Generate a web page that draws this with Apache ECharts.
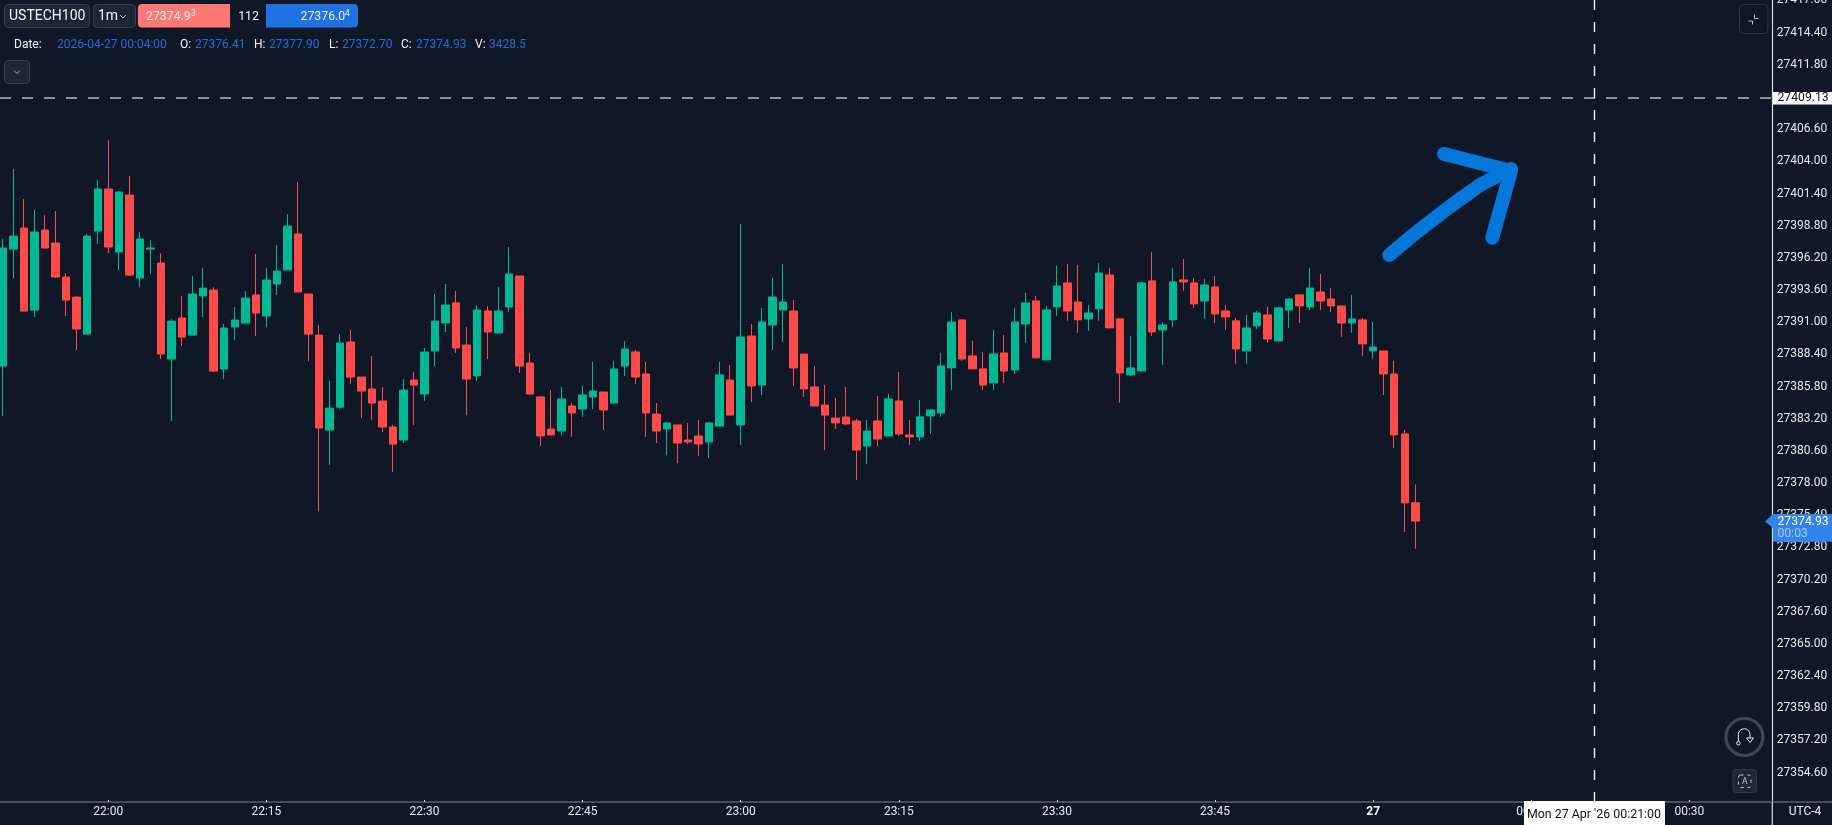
<!DOCTYPE html>
<html>
<head>
<meta charset="utf-8">
<style>html,body{margin:0;padding:0;background:#101827;overflow:hidden}#c{width:1832px;height:825px}</style>
<script src="https://cdn.jsdelivr.net/npm/echarts@6/dist/echarts.min.js"></script>
</head>
<body>
<div id="c"></div>
<script>
const times = ['21:50','21:51','21:52','21:53','21:54','21:55','21:56','21:57','21:58','21:59',
'22:00','22:01','22:02','22:03','22:04','22:05','22:06','22:07','22:08','22:09','22:10','22:11','22:12','22:13','22:14','22:15','22:16','22:17','22:18','22:19',
'22:20','22:21','22:22','22:23','22:24','22:25','22:26','22:27','22:28','22:29','22:30','22:31','22:32','22:33','22:34','22:35','22:36','22:37','22:38','22:39',
'22:40','22:41','22:42','22:43','22:44','22:45','22:46','22:47','22:48','22:49','22:50','22:51','22:52','22:53','22:54','22:55','22:56','22:57','22:58','22:59',
'23:00','23:01','23:02','23:03','23:04','23:05','23:06','23:07','23:08','23:09','23:10','23:11','23:12','23:13','23:14','23:15','23:16','23:17','23:18','23:19',
'23:20','23:21','23:22','23:23','23:24','23:25','23:26','23:27','23:28','23:29','23:30','23:31','23:32','23:33','23:34','23:35','23:36','23:37','23:38','23:39',
'23:40','23:41','23:42','23:43','23:44','23:45','23:46','23:47','23:48','23:49','23:50','23:51','23:52','23:53','23:54','23:55','23:56','23:57','23:58','23:59',
'00:00','00:01','00:02','00:03','00:04'];
const opens = [27387.46,27396.91,27398.61,27391.98,27398.45,27397.40,27394.65,27393.03,27390.04,27398.37,
27401.76,27396.67,27401.28,27394.57,27396.91,27395.78,27388.02,27391.34,27389.96,27393.12,
27393.60,27387.22,27390.61,27390.93,27393.20,27391.50,27394.09,27395.22,27398.13,27393.28,
27389.96,27382.29,27384.14,27389.40,27386.57,27385.60,27384.63,27382.53,27381.48,27386.33,
27385.20,27388.67,27390.94,27392.56,27389.16,27386.66,27391.91,27390.13,27392.23,27394.74,
27387.71,27384.96,27382.37,27382.21,27384.23,27383.99,27384.96,27385.36,27384.47,27387.46,
27388.60,27386.82,27383.58,27382.37,27382.70,27381.48,27381.81,27381.32,27382.61,27386.33,
27382.70,27389.89,27385.93,27390.78,27391.99,27391.91,27388.43,27385.77,27384.31,27383.26,
27383.34,27383.02,27381.00,27383.02,27381.81,27384.64,27381.89,27381.73,27383.43,27383.67,
27387.31,27391.19,27388.28,27387.23,27386.09,27388.52,27387.15,27390.86,27392.72,27387.95,
27392.24,27394.18,27392.64,27391.27,27392.08,27394.82,27391.27,27386.74,27387.06,27394.34,
27390.38,27391.19,27394.42,27394.18,27392.72,27393.85,27391.91,27391.11,27388.68,27390.70,
27391.59,27389.49,27391.99,27393.21,27392.24,27393.45,27392.88,27392.32,27390.94,27391.19,
27388.68,27388.68,27386.82,27381.97,27376.41];
const closes = [27397.00,27397.96,27391.90,27398.29,27397.00,27394.65,27392.79,27390.45,27397.96,27401.76,
27397.08,27401.52,27394.81,27397.72,27397.00,27388.43,27391.09,27389.80,27393.28,27393.76,
27387.05,27390.53,27391.18,27392.95,27391.74,27394.41,27395.14,27398.77,27393.44,27390.04,
27382.45,27384.06,27389.32,27386.57,27385.44,27384.47,27382.53,27381.15,27385.52,27385.92,
27388.59,27391.09,27392.39,27388.92,27386.41,27391.99,27390.21,27391.91,27394.90,27387.46,
27385.20,27381.81,27381.89,27384.80,27383.67,27385.12,27385.44,27383.91,27387.22,27388.84,
27386.57,27383.67,27382.21,27382.86,27381.24,27381.32,27381.16,27382.86,27386.74,27383.50,
27389.81,27385.85,27391.02,27393.04,27392.64,27387.30,27385.61,27384.23,27383.50,27382.86,
27382.78,27380.67,27382.21,27381.56,27384.80,27381.97,27381.73,27383.35,27383.91,27387.47,
27391.02,27388.03,27387.23,27385.93,27388.44,27387.06,27391.02,27392.56,27388.12,27391.99,
27393.93,27391.91,27391.19,27391.75,27394.98,27390.54,27386.90,27387.31,27394.18,27390.22,
27390.78,27394.26,27394.26,27392.48,27394.01,27391.67,27391.43,27388.84,27390.54,27391.75,
27389.65,27392.16,27392.88,27392.32,27393.77,27392.72,27392.32,27390.94,27391.27,27389.25,
27389.00,27386.82,27381.89,27376.40,27374.93];
const lows = [27383.42,27394.57,27391.90,27391.42,27397.00,27394.57,27391.50,27388.75,27390.04,27397.32,
27396.59,27395.22,27394.73,27393.84,27394.89,27388.02,27383.01,27389.07,27389.96,27391.42,
27386.97,27386.41,27389.56,27390.93,27389.88,27390.61,27393.20,27395.22,27393.44,27387.86,
27375.74,27379.46,27383.98,27386.00,27383.26,27383.09,27382.12,27378.89,27381.24,27382.69,
27384.63,27387.46,27390.21,27388.51,27383.50,27386.25,27388.03,27390.13,27391.83,27386.90,
27385.20,27381.00,27381.89,27381.89,27381.73,27383.34,27383.99,27382.29,27384.47,27386.66,
27386.01,27381.73,27381.24,27380.27,27379.62,27381.16,27380.19,27380.03,27382.61,27383.50,
27381.08,27384.55,27385.12,27388.76,27389.40,27385.85,27384.96,27384.23,27380.67,27382.37,
27382.70,27378.25,27379.54,27381.00,27381.81,27381.81,27381.08,27381.41,27381.97,27383.35,
27385.53,27387.87,27387.23,27385.53,27385.53,27386.09,27386.82,27389.33,27388.03,27387.95,
27391.51,27391.11,27390.14,27390.30,27391.11,27390.54,27384.48,27386.66,27387.06,27389.89,
27387.55,27390.62,27393.53,27392.16,27391.27,27390.94,27390.38,27387.63,27387.63,27390.46,
27389.33,27389.49,27390.54,27390.94,27391.99,27391.99,27391.83,27389.81,27390.14,27388.28,
27388.03,27385.12,27380.84,27374.05,27372.70];
const highs = [27397.72,27403.38,27400.96,27400.07,27399.66,27399.99,27394.97,27393.12,27398.13,27402.49,
27405.72,27401.60,27402.81,27398.29,27397.64,27396.56,27391.26,27393.12,27394.73,27395.38,
27393.84,27390.85,27392.23,27393.52,27396.51,27395.38,27397.24,27399.74,27402.33,27393.28,
27390.77,27386.25,27390.04,27390.37,27386.57,27388.27,27385.76,27382.69,27386.41,27386.97,
27388.91,27393.28,27394.09,27393.53,27390.62,27392.39,27392.31,27393.85,27397.08,27394.74,
27388.51,27385.04,27385.52,27385.77,27384.47,27385.85,27387.79,27385.36,27387.87,27389.48,
27388.76,27387.79,27384.47,27382.94,27382.70,27382.86,27383.10,27382.94,27387.79,27387.54,
27398.94,27390.86,27392.15,27394.58,27395.71,27392.80,27388.43,27387.46,27385.93,27384.88,
27385.77,27383.18,27383.10,27385.04,27385.21,27386.98,27383.10,27384.72,27383.99,27388.52,
27391.83,27391.19,27389.49,27388.60,27390.38,27389.97,27392.16,27393.37,27393.13,27392.32,
27395.55,27395.71,27395.63,27392.40,27395.79,27395.39,27391.27,27389.89,27394.26,27396.68,
27391.02,27395.39,27396.12,27394.58,27394.50,27394.74,27392.40,27391.35,27391.59,27391.91,
27392.24,27392.24,27392.88,27393.21,27395.39,27394.90,27393.77,27392.32,27393.21,27391.35,
27391.02,27388.68,27387.87,27382.30,27377.90];
const yTicks = [27354.60,27357.20,27359.80,27362.40,27365.00,27367.60,27370.20,27372.80,27375.40,27378.00,27380.60,27383.20,27385.80,27388.40,27391.00,27393.60,27396.20,27398.80,27401.40,27404.00,27406.60,27411.80,27414.40,27417.00];
const yMin = 27352.23, yMax = 27417.04;
const priceLine = 27409.13, lastPrice = 27374.93, crosshairTime = '00:21';
const header = {symbol:'USTECH100', tf:'1m', bid:'27374.9', bidSup:'3', spread:'112', ask:'27376.0', askSup:'4',
  date:'2026-04-27 00:04:00', o:'27376.41', h:'27377.90', l:'27372.70', c:'27374.93', v:'3428.5'};

const stamp = s => new Date((s >= '21:00' ? '2026-04-26T' : '2026-04-27T') + s + ':00').getTime();
const t22 = stamp('22:00');
const xMin = t22 - 10.275 * 60000, xMax = t22 + 157.87 * 60000;
const GREEN = '#00b894', RED = '#ff4a4a', FONT = 'Roboto, sans-serif';

const chart = echarts.init(document.getElementById('c'), null, {renderer:'canvas'});
chart.setOption({
  animation:false,
  backgroundColor:'#101827',
  grid:{left:0, right:59.7, top:0, bottom:23, containLabel:false, outerBoundsMode:'none'},
  xAxis:{type:'time', min:xMin, max:xMax, position:'bottom', minInterval:16*60000, maxInterval:16*60000,
    axisLine:{show:true, lineStyle:{color:'#566072', width:1.5}},
    axisTick:{show:true, inside:true, length:2, lineStyle:{color:'#cfd3da'}},
    axisLabel:{show:true, hideOverlap:false, margin:4, color:'#e6e8ec', fontSize:12, fontFamily:FONT,
      formatter:v=>{const d=new Date(v);const m=d.getMinutes();
        if(m%15||d.getSeconds())return '';
        const hh=String(d.getHours()).padStart(2,'0'),mm=String(m).padStart(2,'0');
        return (hh==='00'&&mm==='00')?'{b|27}':hh+':'+mm;},
      rich:{b:{fontWeight:'bold',fontSize:12,color:'#ffffff',fontFamily:FONT}}},
    splitLine:{show:false}},
  yAxis:{type:'value', min:yMin, max:yMax, position:'right', scale:true,
    axisLine:{show:true, lineStyle:{color:'#d5d8de', width:1.2}},
    axisTick:{show:false},
    axisLabel:{show:true, margin:4.5, color:'#e6e8ec', fontSize:12, fontFamily:FONT, hideOverlap:false,
      customValues:yTicks, formatter:v=>v.toFixed(2)},
    splitLine:{show:false}},
  series:[
    {type:'candlestick', name:'USTECH100', barWidth:8, clip:true,
      itemStyle:{color:GREEN,color0:RED,borderColor:GREEN,borderColor0:RED,borderWidth:1},
      data:times.map((s,i)=>[stamp(s),opens[i],closes[i],lows[i],highs[i]])},
    {type:'line', name:'price', silent:true, showSymbol:false, clip:true, z:5,
      lineStyle:{color:'#8d9099',width:2,type:[11,11]},
      data:[[xMin,priceLine],[xMax,priceLine]]},
    {type:'line', name:'crosshair', silent:true, showSymbol:false, clip:true, z:5,
      lineStyle:{color:'#f2f2f2',width:1.4,type:[10,12]},
      data:[[stamp(crosshairTime),yMax],[stamp(crosshairTime),yMin]]}
  ]
});

/* overlays */
const g = [];
const txt = (text,x,y,o={}) => g.push({type:'text',silent:true,z:o.z||100,style:{text,x,y,
  fill:o.fill||'#f2f3f5',font:(o.weight||'normal')+' '+(o.size||12)+'px '+(o.family||FONT),
  textAlign:o.align||'left',textVerticalAlign:'middle'}});
const rect = (x,y,w,h,fill,stroke,r,z) => g.push({type:'rect',silent:true,z:z||99,
  shape:{x,y,width:w,height:h,r:r||0},style:{fill:fill||'none',stroke:stroke||'none',lineWidth:1}});
const poly = (points,stroke,w,z,cap) => g.push({type:'polyline',silent:true,z:z||100,shape:{points},
  style:{stroke,lineWidth:w,fill:'none',lineCap:cap||'butt',lineJoin:'round'}});

/* header row */
rect(4.5,4.5,85,23,'#1c2636','#364152',4);
txt(header.symbol,9,16.5,{size:14});
rect(93.5,4.5,42,23,'#1c2636','#364152',4);
txt(header.tf,98,16.5,{size:14});
poly([[120,15],[123,18],[126,15]],'#aab2bf',1);
rect(138,4,92,23.5,'#ff7875',null,[4,0,0,4]);
rect(266,4,92,23.5,'#1f72e2',null,[0,4,4,0]);
rect(230,5,36,22.5,'#101827');
txt(header.bid,146,17,{size:12.3});
txt(header.bidSup,191,14,{size:8.5});
txt(header.spread,248.5,17,{size:12.3,align:'center'});
txt(header.ask,300.5,17,{size:12.3});
txt(header.askSup,345,14,{size:8.5});
/* OHLC row */
const BLUE='#1f6fd8';
txt('Date:',14,45,{size:12});
txt(header.date,57,45,{size:12,fill:BLUE});
txt('O:',180,45,{size:12}); txt(header.o,195,45,{size:12,fill:BLUE});
txt('H:',254,45,{size:12}); txt(header.h,269,45,{size:12,fill:BLUE});
txt('L:',329,45,{size:12}); txt(header.l,342,45,{size:12,fill:BLUE});
txt('C:',401,45,{size:12}); txt(header.c,416,45,{size:12,fill:BLUE});
txt('V:',475,45,{size:12}); txt(header.v,489,45,{size:12,fill:BLUE});
rect(4.5,60.5,25,23,'#1c2636','#364152',4);
poly([[14,70.5],[17,73.5],[20,70.5]],'#aab2bf',1);
/* top right button */
rect(1739.5,4.5,28.5,29,'none','#2e3848',4);
poly([[1748.5,21],[1752.5,21],[1752.5,24.5]],'#b8bec8',1);
poly([[1754.5,14.5],[1754.5,18.5],[1758.5,18.5]],'#b8bec8',1);
/* undo + auto buttons */
g.push({type:'circle',silent:true,z:99,shape:{cx:1744.4,cy:737,r:18.5},style:{fill:'#101827',stroke:'#3c4858',lineWidth:3.2}});
g.push({type:'arc',silent:true,z:100,shape:{cx:1744.2,cy:734.5,r:5.8,startAngle:Math.PI,endAngle:2*Math.PI},style:{stroke:'#e6e8ec',lineWidth:1,fill:'none'}});
poly([[1738.4,734.5],[1738.4,741.5]],'#e6e8ec',1);
poly([[1750,734.5],[1750,738]],'#e6e8ec',1);
g.push({type:'circle',silent:true,z:100,shape:{cx:1738.4,cy:743.2,r:1.8},style:{fill:'#101827',stroke:'#e6e8ec',lineWidth:1}});
g.push({type:'polygon',silent:true,z:100,shape:{points:[[1746.5,738],[1753.5,738],[1750,742.5]]},style:{fill:'#101827',stroke:'#e6e8ec',lineWidth:1}});
rect(1733,769.5,23.5,23,'#1e2836','#2f3a49',3);
g.push({type:'rect',silent:true,z:100,shape:{x:1738.5,y:775,width:12.5,height:12.5,r:2},style:{fill:'none',stroke:'#c3c8d0',lineWidth:1,lineDash:[3,4]}});
txt('A',1744.7,781.5,{size:8.5,align:'center',fill:'#c3c8d0'});
/* hand-drawn arrow */
poly([[1389.3,255],[1413,235],[1450,206.5],[1480,185],[1505,172],[1511,169]],'#0477da',14,100,'round');
poly([[1444,154],[1511,171],[1492.3,237.7]],'#0477da',14,100,'round');
/* price tags */
const yPrice = chart.convertToPixel({yAxisIndex:0},priceLine);
const yLast = chart.convertToPixel({yAxisIndex:0},lastPrice);
const xCross = chart.convertToPixel({xAxisIndex:0},stamp(crosshairTime));
rect(1773,yPrice-6,59,12.5,'#ffffff',null,0,110);
txt(priceLine.toFixed(2),1777.5,yPrice+0.3,{fill:'#111',size:12.2,z:111});
g.push({type:'polygon',silent:true,z:110,shape:{points:[[1765,yLast+0.3],[1773,yLast-7],[1832,yLast-7],[1832,yLast+20.7],[1773,yLast+20.7],[1773,yLast+7]]},style:{fill:'#3283ee'}});
txt(lastPrice.toFixed(2),1777.5,yLast+0.7,{fill:'#ffffff',size:12.2,z:111});
txt('00:03',1777.5,yLast+13.3,{fill:'#a9c9f6',size:12.2,z:111});
/* crosshair date + UTC */
rect(xCross-70.5,801,141,24,'#ffffff',null,0,110);
txt("Mon 27 Apr '26 00:21:00",xCross-0.5,815,{fill:'#111',size:12.4,align:'center',z:111});
txt('UTC-4',1805,812,{size:12,align:'center'});
/* axis lines continued into the corner */
poly([[1772.3,802],[1832,802]],'#566072',1.5,98);
poly([[1772.3,802],[1772.3,825]],'#d5d8de',1.2,98);
chart.setOption({graphic:{elements:g}});
</script>
</body>
</html>
